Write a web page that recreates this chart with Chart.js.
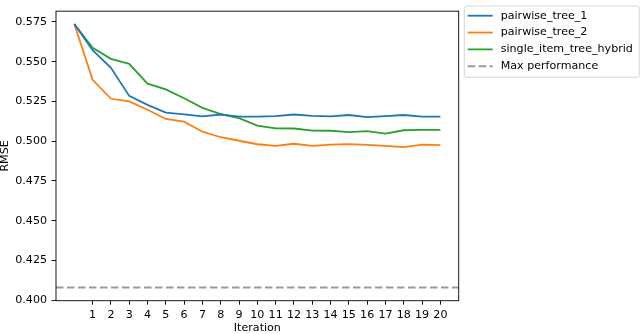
<!DOCTYPE html>
<html>
<head>
<meta charset="utf-8">
<script src="https://cdn.jsdelivr.net/npm/chart.js@4/dist/chart.umd.min.js"></script>
<style>
  html, body { margin: 0; padding: 0; background: #fff; }
  #wrap { width: 640px; height: 334px; position: relative; }
</style>
</head>
<body>
<div id="wrap"><canvas id="c" width="640" height="334"></canvas></div>
<script>
const iterations = [0,1,2,3,4,5,6,7,8,9,10,11,12,13,14,15,16,17,18,19,20];
const pairwiseTree1 = [0.5737,0.5572,0.5462,0.5285,0.5229,0.5180,0.5169,0.5156,0.5168,0.5155,0.5155,0.5158,0.5168,0.5159,0.5156,0.5165,0.5151,0.5158,0.5165,0.5155,0.5155];
const pairwiseTree2 = [0.5737,0.5386,0.5267,0.5250,0.5198,0.5140,0.5123,0.5060,0.5025,0.5003,0.4981,0.4971,0.4984,0.4971,0.4978,0.4982,0.4977,0.4971,0.4963,0.4978,0.4976];
const singleItemTreeHybrid = [0.5737,0.5587,0.5518,0.5487,0.5362,0.5326,0.5270,0.5210,0.5170,0.5145,0.5098,0.5081,0.5080,0.5067,0.5066,0.5057,0.5064,0.5048,0.5069,0.5071,0.5071];
const maxPerformance = 0.408;
const seriesNames = ['pairwise_tree_1','pairwise_tree_2','single_item_tree_hybrid','Max performance'];
const xTickLabels = [1,2,3,4,5,6,7,8,9,10,11,12,13,14,15,16,17,18,19,20];
const yTickLabels = [0.400,0.425,0.450,0.475,0.500,0.525,0.550,0.575];
const xLimits = [-1, 21];
const yLimits = [0.3997, 0.5818];

const FONT = 'DejaVu Sans';
const FS = 11.1;

function pts(vals) { return iterations.map((x, i) => ({x: x, y: vals[i]})); }

const frame = {
  id: 'frame',
  afterDatasetsDraw(chart) {
    const a = chart.chartArea, ctx = chart.ctx;
    ctx.save();
    ctx.strokeStyle = '#000';
    ctx.lineWidth = 0.9;
    ctx.strokeRect(a.left, a.top, a.right - a.left, a.bottom - a.top);
    ctx.restore();
  }
};

const legendBox = {
  id: 'legendBox',
  afterDraw(chart) {
    const ctx = chart.ctx;
    const bx = 464.3, by = 6, bw = 175, bh = 71.3, r = 2.5;
    ctx.save();
    ctx.beginPath();
    ctx.moveTo(bx + r, by);
    ctx.lineTo(bx + bw - r, by);
    ctx.quadraticCurveTo(bx + bw, by, bx + bw, by + r);
    ctx.lineTo(bx + bw, by + bh - r);
    ctx.quadraticCurveTo(bx + bw, by + bh, bx + bw - r, by + bh);
    ctx.lineTo(bx + r, by + bh);
    ctx.quadraticCurveTo(bx, by + bh, bx, by + bh - r);
    ctx.lineTo(bx, by + r);
    ctx.quadraticCurveTo(bx, by, bx + r, by);
    ctx.closePath();
    ctx.fillStyle = 'rgba(255,255,255,0.8)';
    ctx.fill();
    ctx.strokeStyle = '#d6d6d6';
    ctx.lineWidth = 1;
    ctx.stroke();
    chart.data.datasets.forEach((ds, i) => {
      const y = 15.7 + i * 16.85;
      ctx.beginPath();
      ctx.strokeStyle = ds.borderColor;
      ctx.lineWidth = ds.borderWidth;
      ctx.setLineDash(ds.borderDash || []);
      ctx.moveTo(467.7, y);
      ctx.lineTo(492.7, y);
      ctx.stroke();
      ctx.setLineDash([]);
      ctx.fillStyle = '#000';
      ctx.font = FS + 'px ' + FONT;
      ctx.textBaseline = 'middle';
      ctx.textAlign = 'left';
      ctx.fillText(ds.label, 500.7, y);
    });
    ctx.restore();
  }
};

new Chart(document.getElementById('c'), {
  type: 'line',
  data: {
    datasets: [
      { label: seriesNames[0], data: pts(pairwiseTree1), borderColor: '#1f77b4', borderWidth: 1.8, pointRadius: 0, tension: 0, fill: false },
      { label: seriesNames[1], data: pts(pairwiseTree2), borderColor: '#ff7f0e', borderWidth: 1.8, pointRadius: 0, tension: 0, fill: false },
      { label: seriesNames[2], data: pts(singleItemTreeHybrid), borderColor: '#2ca02c', borderWidth: 1.8, pointRadius: 0, tension: 0, fill: false },
      { label: seriesNames[3], data: [{x: xLimits[0], y: maxPerformance}, {x: xLimits[1], y: maxPerformance}], borderColor: '#999999', borderWidth: 2, borderDash: [7.5, 3.5], pointRadius: 0, fill: false }
    ]
  },
  options: {
    responsive: false,
    animation: false,
    devicePixelRatio: 1,
    layout: { padding: { top: 1, right: 181.3, left: 0, bottom: 0 } },
    plugins: { legend: { display: false }, tooltip: { enabled: false } },
    scales: {
      x: {
        type: 'linear',
        min: xLimits[0], max: xLimits[1],
        afterBuildTicks(s) { s.ticks = xTickLabels.map(v => ({value: v})); },
        afterFit(s) { s.height = 33.3; },
        ticks: { autoSkip: false, maxRotation: 0, color: '#000', padding: 3.5, font: { family: FONT, size: FS }, callback: v => String(v) },
        grid: { display: true, drawOnChartArea: false, drawTicks: true, tickLength: 4, tickColor: '#000', tickWidth: 0.9 },
        border: { display: false },
        title: { display: true, text: 'Iteration', color: '#000', font: { family: FONT, size: FS }, padding: { top: 0, bottom: -0.5 } }
      },
      y: {
        type: 'linear',
        min: yLimits[0], max: yLimits[1],
        afterBuildTicks(s) { s.ticks = yTickLabels.map(v => ({value: v})); },
        afterFit(s) { s.width = 56; },
        ticks: { color: '#000', padding: 4.5, font: { family: FONT, size: FS }, callback: v => v.toFixed(3) },
        grid: { display: true, drawOnChartArea: false, drawTicks: true, tickLength: 4.5, tickColor: '#000', tickWidth: 0.9 },
        border: { display: false },
        title: { display: true, text: 'RMSE', color: '#000', font: { family: FONT, size: FS }, padding: { top: -1.5, bottom: 0 } }
      }
    }
  },
  plugins: [frame, legendBox]
});
</script>
</body>
</html>
